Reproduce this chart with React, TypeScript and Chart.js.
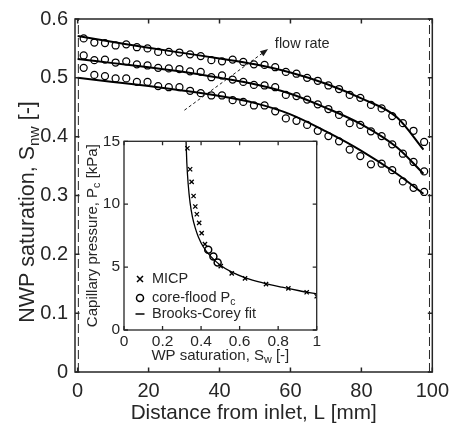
import React, { useEffect, useRef } from 'react';
import { Chart, registerables } from 'chart.js';

Chart.register(...registerables);

const FONT = '"Liberation Sans", Arial, Helvetica, sans-serif';
const INK = '#262626';

// ---------- main plot data ----------
const distance = [
  1.7, 4.7, 7.7, 10.7, 13.7, 16.7, 19.7, 22.7, 25.7, 28.7, 31.7, 34.7, 37.7, 40.7, 43.7, 46.7, 49.7,
  52.7, 55.7, 58.7, 61.7, 64.7, 67.7, 70.7, 73.7, 76.7, 79.7, 82.7, 85.7, 88.7, 91.7, 94.7, 97.7,
];
const satHigh = [
  0.567, 0.56, 0.559, 0.555, 0.557, 0.552, 0.55, 0.544, 0.544, 0.543, 0.54, 0.537, 0.53, 0.528, 0.531,
  0.527, 0.523, 0.522, 0.518, 0.51, 0.507, 0.5, 0.495, 0.487, 0.481, 0.471, 0.466, 0.454, 0.448, 0.435,
  0.423, 0.41, 0.391,
];
const satMid = [
  0.538, 0.53, 0.531, 0.526, 0.528, 0.523, 0.521, 0.517, 0.516, 0.515, 0.511, 0.51, 0.501, 0.504, 0.497,
  0.493, 0.488, 0.487, 0.484, 0.471, 0.469, 0.463, 0.455, 0.447, 0.437, 0.423, 0.42, 0.409, 0.401, 0.387,
  0.371, 0.357, 0.341,
];
const satLow = [
  0.517, 0.505, 0.503, 0.499, 0.499, 0.493, 0.493, 0.486, 0.484, 0.484, 0.478, 0.474, 0.47, 0.47, 0.462,
  0.459, 0.453, 0.453, 0.443, 0.431, 0.427, 0.42, 0.41, 0.401, 0.392, 0.378, 0.367, 0.353, 0.354, 0.343,
  0.324, 0.313, 0.306,
];
const fitDistance = [0, 10, 20, 30, 40, 50, 60, 70, 80, 90, 97.5];
const fitHigh = [0.571, 0.561, 0.551, 0.542, 0.533, 0.523, 0.509, 0.49, 0.465, 0.433, 0.378];
const fitMid = [0.532, 0.525, 0.518, 0.51, 0.5, 0.489, 0.473, 0.449, 0.421, 0.382, 0.337];
const fitLow = [0.5, 0.493, 0.486, 0.478, 0.469, 0.457, 0.438, 0.409, 0.376, 0.337, 0.303];
const coreEnds = [0.2, 99.2];
const mainXTicks = [0, 20, 40, 60, 80, 100];
const mainYTicks = [0, 0.1, 0.2, 0.3, 0.4, 0.5, 0.6];
const arrowFrom = [30.1, 0.445];
const arrowTo = [53.7, 0.549];
const arrowLabelAt = [55.6, 0.557];
const arrowLabel = 'flow rate';

// ---------- inset data ----------
const micpSw = [0.329, 0.343, 0.351, 0.361, 0.37, 0.378, 0.39, 0.403, 0.42, 0.502, 0.559, 0.628, 0.737, 0.853, 0.948, 1.0];
const micpPc = [14.45, 12.78, 11.77, 10.65, 9.82, 9.2, 8.52, 7.7, 6.83, 5.08, 4.5, 4.1, 3.65, 3.31, 3.0, 2.68];
const coreSw = [0.437, 0.464, 0.486];
const corePc = [6.38, 5.85, 5.37];
const bcSw = [0.322, 0.326, 0.333, 0.343, 0.355, 0.37, 0.386, 0.412, 0.45, 0.5, 0.56, 0.63, 0.72, 0.82, 0.91, 1.0];
const bcPc = [15, 13.3, 11.6, 10.1, 9.0, 8.1, 7.4, 6.6, 5.85, 5.15, 4.6, 4.15, 3.75, 3.4, 3.12, 2.87];
const insetXTicks = [0, 0.2, 0.4, 0.6, 0.8, 1];
const insetYTicks = [0, 5, 10, 15];
const legendLabels = ['MICP', 'core-flood P|c', 'Brooks-Corey fit'];

type Part = { t: string; sub?: boolean };

function parse(s: string): Part[] {
  const i = s.indexOf('|');
  if (i < 0) return [{ t: s }];
  const rest = s.slice(i + 1);
  const j = rest.indexOf('|');
  if (j < 0) return [{ t: s.slice(0, i) }, { t: rest, sub: true }];
  return [{ t: s.slice(0, i) }, { t: rest.slice(0, j), sub: true }, { t: rest.slice(j + 1) }];
}

function drawRich(
  ctx: CanvasRenderingContext2D,
  parts: Part[],
  x: number,
  y: number,
  size: number,
  rotate = false,
  align: 'center' | 'left' = 'center'
) {
  ctx.save();
  ctx.translate(x, y);
  if (rotate) ctx.rotate(-Math.PI / 2);
  const subSize = size * 0.72;
  let w = 0;
  for (const p of parts) {
    ctx.font = `${p.sub ? subSize : size}px ${FONT}`;
    w += ctx.measureText(p.t).width;
  }
  let cx = align === 'center' ? -w / 2 : 0;
  ctx.textBaseline = 'middle';
  ctx.textAlign = 'left';
  ctx.fillStyle = INK;
  for (const p of parts) {
    ctx.font = `${p.sub ? subSize : size}px ${FONT}`;
    ctx.fillText(p.t, cx, p.sub ? size * 0.3 : 0);
    cx += ctx.measureText(p.t).width;
  }
  ctx.restore();
}

function framePlugin(o: {
  xTicks: number[];
  yTicks: number[];
  tick: number;
  lw: number;
  extra?: (chart: any) => void;
}) {
  return {
    id: 'frame',
    beforeDraw(chart: any) {
      const { ctx, chartArea: a } = chart;
      ctx.save();
      ctx.fillStyle = '#ffffff';
      ctx.fillRect(a.left, a.top, a.right - a.left, a.bottom - a.top);
      ctx.restore();
    },
    afterDraw(chart: any) {
      const { ctx, chartArea: a } = chart;
      const x = chart.scales.x;
      const y = chart.scales.y;
      ctx.save();
      ctx.strokeStyle = INK;
      ctx.lineWidth = o.lw;
      ctx.setLineDash([]);
      ctx.beginPath();
      for (const v of o.xTicks) {
        const px = x.getPixelForValue(v);
        ctx.moveTo(px, a.bottom);
        ctx.lineTo(px, a.bottom - o.tick);
        ctx.moveTo(px, a.top);
        ctx.lineTo(px, a.top + o.tick);
      }
      for (const v of o.yTicks) {
        const py = y.getPixelForValue(v);
        ctx.moveTo(a.left, py);
        ctx.lineTo(a.left + o.tick, py);
        ctx.moveTo(a.right, py);
        ctx.lineTo(a.right - o.tick, py);
      }
      ctx.stroke();
      ctx.strokeRect(a.left, a.top, a.right - a.left, a.bottom - a.top);
      ctx.restore();
      if (o.extra) o.extra(chart);
    },
  };
}

function pts(xs: number[], ys: number[]) {
  return xs.map((v, i) => ({ x: v, y: ys[i] }));
}

const fmt = (v: any) => `${+Number(v).toFixed(3)}`;

export default function App() {
  const mainRef = useRef<HTMLCanvasElement>(null);
  const insetRef = useRef<HTMLCanvasElement>(null);

  useEffect(() => {
    const circleSet = (ys: number[]) => ({
      data: pts(distance, ys),
      showLine: false,
      pointStyle: 'circle',
      pointRadius: 3.5,
      pointBorderWidth: 1.25,
      pointBorderColor: '#000',
      pointBackgroundColor: 'rgba(0,0,0,0)',
    });
    const fitSet = (ys: number[]) => ({
      data: pts(fitDistance, ys),
      showLine: true,
      pointRadius: 0,
      borderColor: '#000',
      borderWidth: 2,
      cubicInterpolationMode: 'monotone',
      fill: false,
    });
    const dashSet = (c: number) => ({
      data: [
        { x: c, y: mainYTicks[0] },
        { x: c, y: mainYTicks[mainYTicks.length - 1] },
      ],
      showLine: true,
      pointRadius: 0,
      borderColor: INK,
      borderWidth: 1,
      borderDash: [9, 4],
    });

    const mainExtra = (chart: any) => {
      const { ctx, chartArea: a } = chart;
      const x = chart.scales.x;
      const y = chart.scales.y;
      const x0 = x.getPixelForValue(arrowFrom[0]);
      const y0 = y.getPixelForValue(arrowFrom[1]);
      const x1 = x.getPixelForValue(arrowTo[0]);
      const y1 = y.getPixelForValue(arrowTo[1]);
      const ang = Math.atan2(y1 - y0, x1 - x0);
      ctx.save();
      ctx.strokeStyle = '#1a1a1a';
      ctx.fillStyle = '#1a1a1a';
      ctx.lineWidth = 1;
      ctx.setLineDash([3, 2.5]);
      ctx.beginPath();
      ctx.moveTo(x0, y0);
      ctx.lineTo(x1 - 5 * Math.cos(ang), y1 - 5 * Math.sin(ang));
      ctx.stroke();
      ctx.setLineDash([]);
      ctx.beginPath();
      ctx.moveTo(x1, y1);
      ctx.lineTo(x1 - 8 * Math.cos(ang) + 3 * Math.sin(ang), y1 - 8 * Math.sin(ang) - 3 * Math.cos(ang));
      ctx.lineTo(x1 - 8 * Math.cos(ang) - 3 * Math.sin(ang), y1 - 8 * Math.sin(ang) + 3 * Math.cos(ang));
      ctx.closePath();
      ctx.fill();
      ctx.restore();
      drawRich(ctx, [{ t: arrowLabel }], x.getPixelForValue(arrowLabelAt[0]), y.getPixelForValue(arrowLabelAt[1]), 14.5, false, 'left');
      drawRich(ctx, [{ t: 'Distance from inlet, L [mm]' }], (a.left + a.right) / 2, 413, 20.7);
      drawRich(ctx, parse('NWP saturation, S|nw| [-]'), 28, 212, 21.5, true);
    };

    const main = new Chart(mainRef.current as HTMLCanvasElement, {
      type: 'scatter',
      data: {
        datasets: [
          circleSet(satHigh),
          circleSet(satMid),
          circleSet(satLow),
          fitSet(fitHigh),
          fitSet(fitMid),
          fitSet(fitLow),
          ...coreEnds.map(dashSet),
        ] as any,
      },
      options: {
        animation: false,
        responsive: false,
        events: [],
        layout: { padding: { left: 0, top: 12, right: 18.5, bottom: 0 } },
        plugins: { legend: { display: false }, tooltip: { enabled: false } },
        scales: {
          x: {
            type: 'linear',
            min: -0.75,
            max: 100,
            afterBuildTicks: (s: any) => {
              s.ticks = mainXTicks.map((v) => ({ value: v }));
            },
            afterFit: (s: any) => {
              s.height = 60;
            },
            grid: { display: false, drawTicks: false },
            border: { display: false },
            ticks: { font: { family: FONT, size: 20 }, color: INK, padding: 7, maxRotation: 0, autoSkip: false, callback: fmt },
          },
          y: {
            type: 'linear',
            min: 0,
            max: 0.6,
            afterBuildTicks: (s: any) => {
              s.ticks = mainYTicks.map((v) => ({ value: v }));
            },
            afterFit: (s: any) => {
              s.width = 75;
            },
            grid: { display: false, drawTicks: false },
            border: { display: false },
            ticks: { font: { family: FONT, size: 20 }, color: INK, padding: 7, autoSkip: false, callback: fmt },
          },
        },
      },
      plugins: [framePlugin({ xTicks: mainXTicks, yTicks: mainYTicks, tick: 4.5, lw: 1.5, extra: mainExtra })],
    } as any);

    const insetExtra = (chart: any) => {
      const { ctx, chartArea: a } = chart;
      drawRich(ctx, parse('WP saturation, S|w| [-]'), (a.left + a.right) / 2, a.bottom + 26, 15);
      drawRich(ctx, parse('Capillary pressure, P|c| [kPa]'), a.left - 31, (a.top + a.bottom) / 2, 15, true);
      const mx = a.left + 16;
      const rows = [a.bottom - 51, a.bottom - 32, a.bottom - 16];
      ctx.save();
      ctx.strokeStyle = '#000';
      ctx.lineWidth = 1.5;
      ctx.beginPath();
      ctx.moveTo(mx - 3, rows[0] - 3);
      ctx.lineTo(mx + 3, rows[0] + 3);
      ctx.moveTo(mx + 3, rows[0] - 3);
      ctx.lineTo(mx - 3, rows[0] + 3);
      ctx.stroke();
      ctx.beginPath();
      ctx.arc(mx, rows[1], 3.5, 0, Math.PI * 2);
      ctx.stroke();
      ctx.beginPath();
      ctx.moveTo(mx - 4.5, rows[2]);
      ctx.lineTo(mx + 4.5, rows[2]);
      ctx.stroke();
      ctx.restore();
      legendLabels.forEach((l, i) => drawRich(ctx, parse(l), a.left + 28, rows[i], 14.5, false, 'left'));
    };

    const inset = new Chart(insetRef.current as HTMLCanvasElement, {
      type: 'scatter',
      data: {
        datasets: [
          {
            data: pts(micpSw, micpPc),
            showLine: false,
            pointStyle: 'crossRot',
            pointRadius: 3,
            pointBorderWidth: 1.3,
            pointBorderColor: '#000',
          },
          {
            data: pts(coreSw, corePc),
            showLine: false,
            pointStyle: 'circle',
            pointRadius: 3.5,
            pointBorderWidth: 1.5,
            pointBorderColor: '#000',
            pointBackgroundColor: 'rgba(0,0,0,0)',
          },
          {
            data: pts(bcSw, bcPc),
            showLine: true,
            pointRadius: 0,
            borderColor: '#000',
            borderWidth: 1.3,
            cubicInterpolationMode: 'monotone',
            fill: false,
          },
        ] as any,
      },
      options: {
        animation: false,
        responsive: false,
        events: [],
        layout: { padding: { left: 0, top: 10.3, right: 7.3, bottom: 0 } },
        plugins: { legend: { display: false }, tooltip: { enabled: false } },
        scales: {
          x: {
            type: 'linear',
            min: 0,
            max: 1,
            afterBuildTicks: (s: any) => {
              s.ticks = insetXTicks.map((v) => ({ value: v }));
            },
            afterFit: (s: any) => {
              s.height = 38;
            },
            grid: { display: false, drawTicks: false },
            border: { display: false },
            ticks: { font: { family: FONT, size: 15.5 }, color: INK, padding: 2, maxRotation: 0, autoSkip: false, callback: fmt },
          },
          y: {
            type: 'linear',
            min: 0,
            max: 15,
            afterBuildTicks: (s: any) => {
              s.ticks = insetYTicks.map((v) => ({ value: v }));
            },
            afterFit: (s: any) => {
              s.width = 40;
            },
            grid: { display: false, drawTicks: false },
            border: { display: false },
            ticks: { font: { family: FONT, size: 15.5 }, color: INK, padding: 4, autoSkip: false, callback: fmt },
          },
        },
      },
      plugins: [framePlugin({ xTicks: insetXTicks, yTicks: insetYTicks, tick: 4, lw: 1.3, extra: insetExtra })],
    } as any);

    return () => {
      main.destroy();
      inset.destroy();
    };
  }, []);

  return (
    <div style={{ position: 'fixed', left: 0, top: 0, width: 456, height: 432, background: '#fff', overflow: 'hidden' }}>
      <canvas
        ref={mainRef}
        width={456}
        height={432}
        style={{ position: 'absolute', left: 0, top: 0, width: 456, height: 432, display: 'block' }}
      />
      <canvas
        ref={insetRef}
        width={240}
        height={240}
        style={{ position: 'absolute', left: 84, top: 128, width: 240, height: 240, display: 'block' }}
      />
    </div>
  );
}
